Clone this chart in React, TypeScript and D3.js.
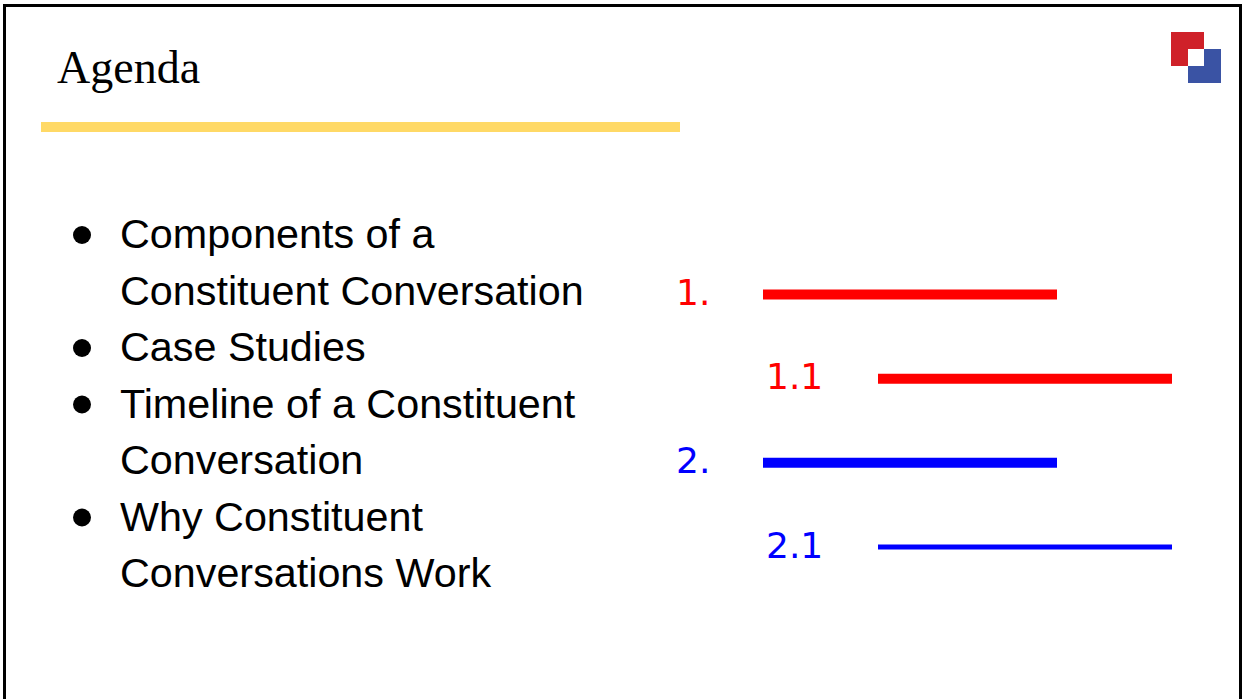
import * as d3 from 'd3';

// slide content
const title = 'Agenda';
const agendaItems: string[][] = [
	['Components of a', 'Constituent Conversation'],
	['Case Studies'],
	['Timeline of a Constituent', 'Conversation'],
	['Why Constituent', 'Conversations Work'],
];

// outline "chart" on the right
const outlineLabels = ['1.', '1.1', '2.', '2.1'];
const outlineLevels = [0, 1, 0, 1];
const outlineSections = ['1', '1', '2', '2'];
const outlineLengths = [1, 1, 1, 1];

const W = 1244;
const H = 699;

const App = () => {
	// bullet lines, flattened so each wrapped line gets its own row
	const rows: { text: string; first: boolean }[] = [];
	agendaItems.forEach(item => item.forEach((t, i) => rows.push({ text: t, first: i === 0 })));

	const rowY = d3
		.scaleLinear()
		.domain([0, rows.length - 1])
		.range([248, 248 + 56.5 * (rows.length - 1)]);

	const y = d3.scalePoint<string>().domain(outlineLabels).range([294.5, 547]);
	const lineStart = d3.scaleLinear().domain([0, 1]).range([763, 878]);
	const labelX = d3.scaleLinear().domain([0, 1]).range([676, 766]);
	const len = d3.scaleLinear().domain([0, 1]).range([0, 294]);
	const color = d3.scaleOrdinal<string, string>().domain(['1', '2']).range(['#ff0000', '#0000ff']);
	const weight = d3.scaleOrdinal<string, number>().domain(outlineLabels).range([10, 10, 10, 5]);

	return (
		<svg width={W} height={H} style={{ position: 'absolute', left: 0, top: 0, background: '#fff' }}>
			<rect x={4.5} y={5.5} width={1236} height={H + 20} fill="none" stroke="#000" strokeWidth={3} />

			<text x={57} y={83} fontFamily="'Liberation Serif', serif" fontSize={46} fill="#000">
				{title}
			</text>
			<rect x={41} y={122} width={639} height={10} fill="#ffd966" />

			{/* logo */}
			<g>
				<rect x={1171} y={32} width={33} height={34} fill="#cf2129" />
				<rect x={1188} y={49} width={33} height={34} fill="#3a53a4" />
				<rect x={1188} y={49} width={16} height={17} fill="#fff" />
			</g>

			<g fontFamily="'Liberation Sans', Arial, sans-serif" fontSize={41.3} fill="#000">
				{rows.map((r, i) => (
					<g key={i}>
						{r.first && <circle cx={82} cy={rowY(i) - 13} r={9} fill="#000" />}
						<text x={120} y={rowY(i)}>
							{r.text}
						</text>
					</g>
				))}
			</g>

			<g fontFamily="'DejaVu Sans', sans-serif" fontSize={36}>
				{outlineLabels.map((lab, i) => {
					const yy = y(lab)!;
					const x0 = lineStart(outlineLevels[i]);
					const c = color(outlineSections[i]);
					return (
						<g key={lab}>
							<text x={labelX(outlineLevels[i])} y={yy + 10.5} fill={c}>
								{lab}
							</text>
							<line x1={x0} x2={x0 + len(outlineLengths[i])} y1={yy} y2={yy} stroke={c} strokeWidth={weight(lab)} />
						</g>
					);
				})}
			</g>
		</svg>
	);
};

export default App;
